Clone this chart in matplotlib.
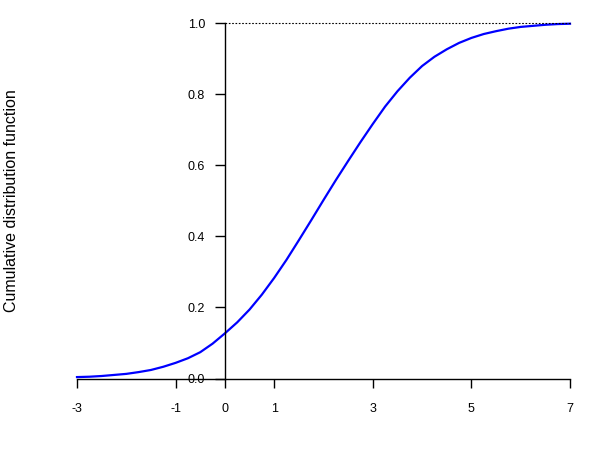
import matplotlib

matplotlib.use("Agg")
import matplotlib.pyplot as plt

# values
x_vals = [-3, -2.75, -2.5, -2.25, -2, -1.75, -1.5, -1.25, -1, -0.75, -0.5, -0.25,
          0, 0.25, 0.5, 0.75, 1, 1.25, 1.5, 1.75, 2, 2.25, 2.5, 2.75, 3, 3.25,
          3.5, 3.75, 4, 4.25, 4.5, 4.75, 5, 5.25, 5.5, 5.75, 6, 6.25, 6.5, 6.75, 7]
cdf_vals = [0.004, 0.005, 0.007, 0.010, 0.013, 0.018, 0.024, 0.033, 0.044, 0.057,
            0.074, 0.098, 0.127, 0.158, 0.194, 0.236, 0.283, 0.334, 0.389, 0.445,
            0.502, 0.558, 0.612, 0.665, 0.716, 0.765, 0.808, 0.846, 0.879, 0.905,
            0.926, 0.944, 0.958, 0.969, 0.977, 0.984, 0.989, 0.992, 0.995, 0.997, 0.998]
x_ticks = [-3, -1, 0, 1, 3, 5, 7]
y_ticks = [0.0, 0.2, 0.4, 0.6, 0.8, 1.0]

plt.rcParams["font.family"] = ["Liberation Sans", "DejaVu Sans"]

fig = plt.figure(figsize=(6, 4.5), dpi=100)
ax = fig.add_axes([77 / 600, (450 - 378.5) / 450, 493 / 600, 355.5 / 450])

ax.plot(x_vals, cdf_vals, color="#0000ff", lw=1.6, clip_on=False,
        solid_joinstyle="round")
ax.plot([0, 7], [1, 1], color="black", lw=0.8, ls=(0, (1.5, 1.5)), clip_on=False)

ax.set_xlim(-3, 7)
ax.set_ylim(0, 1)
ax.spines["top"].set_visible(False)
ax.spines["right"].set_visible(False)
ax.spines["left"].set_position(("data", 0))
ax.spines["bottom"].set_position(("data", 0))
ax.spines["left"].set_linewidth(1)
ax.spines["bottom"].set_linewidth(1)

ax.set_xticks(x_ticks)
ax.set_xticklabels([str(t) for t in x_ticks])
ax.set_yticks(y_ticks)
ax.set_yticklabels([f"{t:.1f}" for t in y_ticks])
ax.tick_params(axis="x", length=6.8, width=1, pad=11, labelsize=9)
ax.tick_params(axis="y", length=7.2, width=1, pad=7, labelsize=9)

fig.text(12 / 600, 1 - 200.5 / 450, "Cumulative distribution function",
         rotation=90, va="center", ha="center", fontsize=11.5)

fig.savefig("out.png", dpi=100)
